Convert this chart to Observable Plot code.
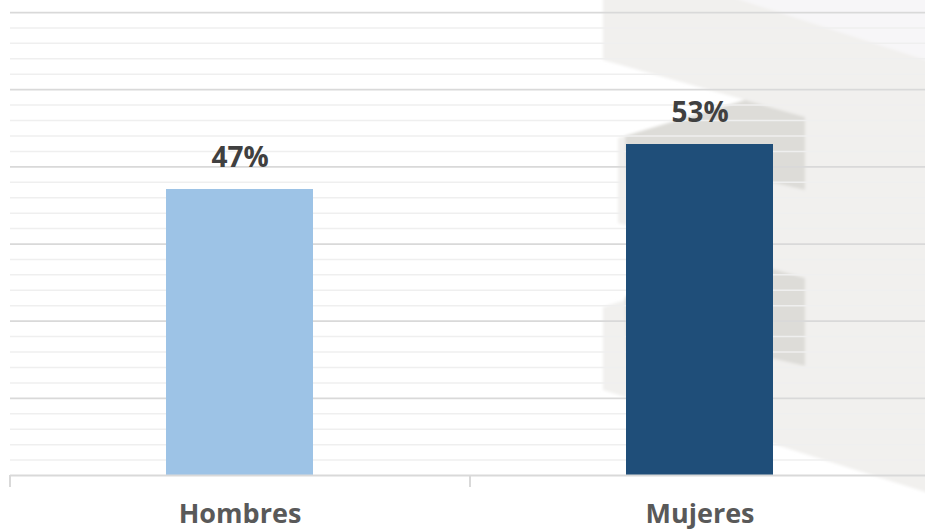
<!DOCTYPE html>
<html lang="es">
<head>
<meta charset="utf-8">
<script src="https://cdn.jsdelivr.net/npm/d3@7"></script>
<script src="https://cdn.jsdelivr.net/npm/@observablehq/plot@0.6"></script>
<style>
  html, body { margin: 0; padding: 0; background: #ffffff; overflow: hidden; }
  #chart { width: 925px; height: 530px; }
</style>
</head>
<body>
<div id="chart"></div>
<script>
// Distribución por sexo
const categories = ["Hombres", "Mujeres"];
const shares = [47, 53];
const shareLabels = ["47%", "53%"];
const barColors = ["#9DC3E6", "#1F4E79"];

// Value axis extent and gridline density
const axisMin = 8.87;
const axisMax = 70.6;
const gridSteps = 30;   // minor divisions
const majorEvery = 5;   // one major line every five minor steps

const rows = categories.map((c, i) => ({category: c, share: shares[i], label: shareLabels[i], color: barColors[i]}));

const gridValues = d3.range(1, gridSteps + 1).map(i => ({
  value: axisMin + i * (axisMax - axisMin) / gridSteps,
  major: i % majorEvery === 0
}));

const width = 925, height = 530;
const marginTop = 12, marginBottom = 55, marginLeft = 10;
const xRange = [10, 930];
const step = (xRange[1] - xRange[0]) / categories.length;
const pxPerUnit = (height - marginTop - marginBottom) / (axisMax - axisMin);

// Faint, softened decorative backdrop on the right-hand side of the frame
function backdrop() {
  const g = d3.create("svg:g").attr("aria-hidden", "true");
  g.append("defs").append("filter")
    .attr("id", "soft-backdrop")
    .attr("x", "-5%").attr("y", "-5%").attr("width", "110%").attr("height", "110%")
    .append("feGaussianBlur").attr("stdDeviation", 1.6);
  const layer = g.append("g").attr("filter", "url(#soft-backdrop)");
  const shapes = [
    {fill: "#f1f0ee", pts: [[603,-10],[935,-10],[935,495],[603,390],[603,307],[745,262],[618,223],[618,138],[745,100],[603,60]]},
    {fill: "#f7f6f8", pts: [[710,-10],[935,-10],[935,63]]},
    {fill: "#dddcd8", pts: [[625,136],[745,100],[805,117],[805,190],[775,183],[627,183]]},
    {fill: "#dddcd8", pts: [[625,297],[745,261],[805,278],[805,366],[775,359],[627,359]]}
  ];
  for (const s of shapes) {
    layer.append("polygon").attr("points", s.pts.map(p => p.join(",")).join(" ")).attr("fill", s.fill);
  }
  return g.node();
}

const chart = Plot.plot({
  width, height,
  marginTop, marginBottom, marginLeft, marginRight: 0,
  style: {fontFamily: "'Open Sans', sans-serif", background: "transparent"},
  x: {domain: categories, range: xRange, paddingInner: 0.68, paddingOuter: 0.34, label: null},
  y: {domain: [axisMin, axisMax], axis: null},
  marks: [
    backdrop,
    // minor and major horizontal gridlines
    Plot.ruleY(gridValues.filter(d => !d.major), {y: "value", stroke: "#efefef", strokeWidth: 1.5}),
    Plot.ruleY(gridValues.filter(d => d.major), {y: "value", stroke: "#d9d9d9", strokeWidth: 1.75}),
    // bars
    Plot.barY(rows, {x: "category", y1: axisMin, y2: "share", fill: "color"}),
    // category axis line and separator ticks between categories
    Plot.ruleY([axisMin], {stroke: "#d9d9d9", strokeWidth: 2}),
    Plot.ruleX(categories, {
      x: d => d, dx: -step / 2,
      y1: axisMin, y2: axisMin - 12 / pxPerUnit,
      stroke: "#d9d9d9", strokeWidth: 2
    }),
    // value labels
    Plot.text(rows, {
      x: "category", y: "share", text: "label",
      lineAnchor: "bottom", dy: -23,
      fontSize: 28, fontWeight: "bold", fill: "#404040"
    }),
    Plot.axisX({
      tickSize: 0, tickPadding: 28, label: null,
      fontSize: 27, fontWeight: "bold", color: "#595959"
    })
  ]
});

document.getElementById("chart").appendChild(chart);
</script>
</body>
</html>
